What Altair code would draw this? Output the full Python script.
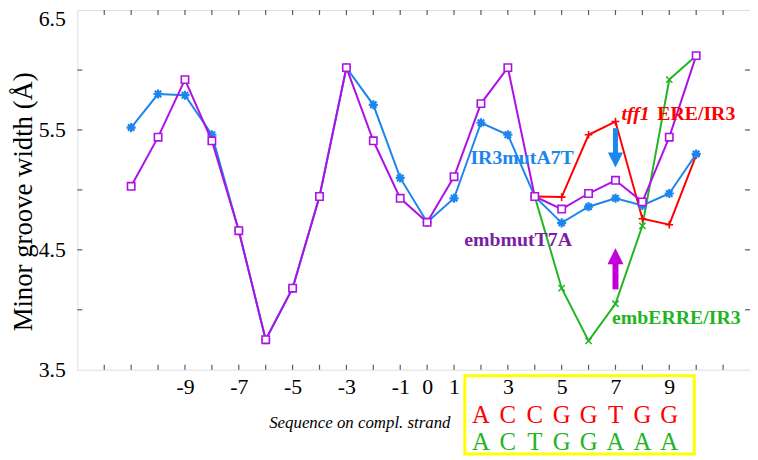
import altair as alt
import pandas as pd

# ---------------- data ----------------
positions_full = list(range(-11, 11))
positions_core = list(range(4, 11))

ir3muta7t = [5.52, 5.80, 5.79, 5.46, 4.66, 3.75, 4.18, 4.945, 6.02, 5.71, 5.10,
             4.73, 4.93, 5.56, 5.46, 4.945, 4.725, 4.86, 4.93, 4.87, 4.97, 5.30]
embmutt7a = [5.03, 5.44, 5.92, 5.41, 4.66, 3.75, 4.18, 4.945, 6.02, 5.41, 4.93,
             4.73, 5.11, 5.72, 6.02, 4.945, 4.84, 4.97, 5.08, 4.90, 5.44, 6.12]
tff1_ere_ir3 = [4.945, 4.94, 5.46, 5.57, 4.76, 4.71, 5.29]
emberre_ir3 = [4.945, 4.18, 3.74, 4.05, 4.70, 5.92, 6.12]

x_label_values = [-9, -7, -5, -3, -1, 0, 1, 3, 5, 7, 9]
x_tick_values = list(range(-12, 12))
y_label_values = [3.5, 4.5, 5.5, 6.5]
y_tick_values = [4.0, 4.5, 5.0, 5.5, 6.0]

seq_positions = list(range(2, 10))
seq_tff1 = list("ACCGGTGG")
seq_emb = list("ACTGGAAA")

series_labels = ["IR3mutA7T", "embmutT7A", "embERRE/IR3"]
series_label_x = [3.53, 3.38, 9.26]
series_label_y = [5.265, 4.58, 3.93]

# arrows (x position, shaft start, shaft end, head centre)
arrow_x = [7, 7]
arrow_shaft_from = [5.515, 4.17]
arrow_shaft_to = [5.30, 4.40]
arrow_head_at = [5.25, 4.447]

# ---------------- style ----------------
SERIF = "Liberation Serif"
BLUE = "#1C86EE"
PURPLE = "#AE10E6"
DARK_PURPLE = "#7B1FA2"
RED = "#FF0000"
GREEN = "#22B522"
MAGENTA = "#C400D8"
FRAME = "#5a5a5a"

W, H = 679, 363

xscale = alt.Scale(domain=[-13, 12], nice=False, zero=False)
yscale = alt.Scale(domain=[3.5, 6.5], nice=False, zero=False)

xaxis = alt.Axis(values=x_label_values, labelExpr="'' + datum.value",
                 ticks=False, tickSize=0, domain=False, grid=False,
                 labelFont=SERIF, labelFontSize=22, labelColor="black",
                 labelPadding=7, labelFlush=False, title=None)
yaxis = alt.Axis(values=y_label_values, labelExpr="format(datum.value, '.1f')",
                 ticks=False, tickSize=0, domain=False, grid=False,
                 labelFont=SERIF, labelFontSize=22, labelColor="black",
                 labelPadding=12, labelFlush=False,
                 labelBaseline={"condition": {"test": "datum.value >= 6.5", "value": "top"},
                                "value": "middle"},
                 labelOffset={"condition": {"test": "datum.value >= 6.5", "value": -1},
                              "value": 0},
                 title="Minor groove width (Å)", titleFont=SERIF, titleFontSize=27,
                 titleFontWeight="normal", titleColor="black",
                 titleBaseline="alphabetic", titleX=-46, titleY=193)


def xenc(field="pos"):
    return alt.X(f"{field}:Q", scale=xscale, axis=xaxis, title=None)


def yenc(field="w"):
    return alt.Y(f"{field}:Q", scale=yscale, axis=yaxis)


ASTERISK = "M-1,0L1,0M0,-1L0,1M-0.7,-0.7L0.7,0.7M-0.7,0.7L0.7,-0.7"
PLUS = "M-1,0L1,0M0,-1L0,1"
XMARK = "M-1,-1L1,1M-1,1L1,-1"
TRI_DOWN = "M-1,-1L1,-1L0,1Z"
TRI_UP = "M-1,1L1,1L0,-1Z"

df_blue = pd.DataFrame({"pos": positions_full, "w": ir3muta7t})
df_purple = pd.DataFrame({"pos": positions_full, "w": embmutt7a})
df_red = pd.DataFrame({"pos": positions_core, "w": tff1_ere_ir3})
df_green = pd.DataFrame({"pos": positions_core, "w": emberre_ir3})


def series(df, color, shape, size, sw=1.6, fill=None):
    line = alt.Chart(df).mark_line(color=color, strokeWidth=2).encode(x=xenc(), y=yenc())
    kw = dict(shape=shape, size=size, strokeWidth=sw, opacity=1)
    if fill:
        pts = alt.Chart(df).mark_point(filled=True, fill=fill, stroke=color, fillOpacity=1, **kw)
    else:
        pts = alt.Chart(df).mark_point(filled=False, color=color, **kw)
    return line + pts.encode(x=xenc(), y=yenc())


green_layer = series(df_green, GREEN, XMARK, 40, 1.5)
red_layer = series(df_red, RED, PLUS, 60, 1.6)
blue_layer = series(df_blue, BLUE, ASTERISK, 85, 2.2)
purple_layer = series(df_purple, PURPLE, "square", 55, 1.6, fill="white")

# frame ticks (inward)
df_xt = pd.DataFrame({"pos": x_tick_values})
df_yt = pd.DataFrame({"w": y_tick_values})
ticks = (
    alt.Chart(df_xt).mark_rule(color=FRAME, strokeWidth=1.2).encode(x=xenc(), y=alt.value(H), y2=alt.value(H - 5))
    + alt.Chart(df_xt).mark_rule(color=FRAME, strokeWidth=1.2).encode(x=xenc(), y=alt.value(0), y2=alt.value(5))
    + alt.Chart(df_yt).mark_rule(color=FRAME, strokeWidth=1.2).encode(y=yenc(), x=alt.value(0), x2=alt.value(5))
    + alt.Chart(df_yt).mark_rule(color=FRAME, strokeWidth=1.2).encode(y=yenc(), x=alt.value(W), x2=alt.value(W - 5))
)

# arrows
df_arrow = pd.DataFrame({"pos": arrow_x, "w": arrow_shaft_from, "w2": arrow_shaft_to, "h": arrow_head_at})
arrows = (
    alt.Chart(df_arrow.iloc[[0]]).mark_rule(color=BLUE, strokeWidth=5).encode(x=xenc(), y=yenc("w"), y2="w2:Q")
    + alt.Chart(df_arrow.iloc[[0]]).mark_point(shape=TRI_DOWN, size=230, filled=True, color=BLUE, opacity=1).encode(x=xenc(), y=yenc("h"))
    + alt.Chart(df_arrow.iloc[[1]]).mark_rule(color=MAGENTA, strokeWidth=6).encode(x=xenc(), y=yenc("w"), y2="w2:Q")
    + alt.Chart(df_arrow.iloc[[1]]).mark_point(shape=TRI_UP, size=260, filled=True, color=MAGENTA, opacity=1).encode(x=xenc(), y=yenc("h"))
)

# series labels
df_lab = pd.DataFrame({"pos": series_label_x, "w": series_label_y, "t": series_labels})
lab_colors = [BLUE, DARK_PURPLE, GREEN]
labels = None
for i, c in enumerate(lab_colors):
    l = alt.Chart(df_lab.iloc[[i]]).mark_text(font=SERIF, fontSize=20, fontWeight="bold", color=c,
                                             align="center", baseline="middle").encode(x=xenc(), y=yenc(), text="t:N")
    labels = l if labels is None else labels + l

df_tff = pd.DataFrame({"pos": [8.27, 8.55], "w": [5.636, 5.636], "t": ["tff1", "ERE/IR3"]})
tff_lab = (
    alt.Chart(df_tff.iloc[[0]]).mark_text(font=SERIF, fontSize=20, fontWeight="bold", fontStyle="italic",
                                          color=RED, align="right", baseline="middle").encode(x=xenc(), y=yenc(), text="t:N")
    + alt.Chart(df_tff.iloc[[1]]).mark_text(font=SERIF, fontSize=20, fontWeight="bold",
                                            color=RED, align="left", baseline="middle").encode(x=xenc(), y=yenc(), text="t:N")
)

# sequence box below the axis
df_box = pd.DataFrame({"x0": [min(seq_positions) - 0.6], "x1": [max(seq_positions) + 0.93]})
box = alt.Chart(df_box).mark_rect(fillOpacity=0, stroke="#FFFF00", strokeWidth=3).encode(
    x=xenc("x0"), x2="x1:Q", y=alt.value(369), y2=alt.value(448))

df_seq1 = pd.DataFrame({"pos": seq_positions, "b": seq_tff1})
df_seq2 = pd.DataFrame({"pos": seq_positions, "b": seq_emb})
seq = (
    alt.Chart(df_seq1).mark_text(font=SERIF, fontSize=25, color=RED, baseline="middle").encode(
        x=xenc(), y=alt.value(409), text="b:N")
    + alt.Chart(df_seq2).mark_text(font=SERIF, fontSize=25, color=GREEN, baseline="middle").encode(
        x=xenc(), y=alt.value(436), text="b:N")
)

df_cap = pd.DataFrame({"pos": [-2.5], "t": ["Sequence on compl. strand"]})
caption = alt.Chart(df_cap).mark_text(font=SERIF, fontSize=17, fontStyle="italic", color="black",
                                      baseline="middle").encode(x=xenc(), y=alt.value(417), text="t:N")

chart = alt.layer(
    ticks, green_layer, red_layer, blue_layer, purple_layer, arrows, labels, tff_lab, box, seq, caption
).properties(
    width=W, height=H,
    padding={"left": 70, "top": 0, "right": 0, "bottom": 87},
    autosize=alt.AutoSizeParams(type="none"),
).configure_view(stroke=FRAME, strokeWidth=1.5).configure(background="white")

chart.save("out.html", embed_options={"renderer": "svg", "actions": False})
